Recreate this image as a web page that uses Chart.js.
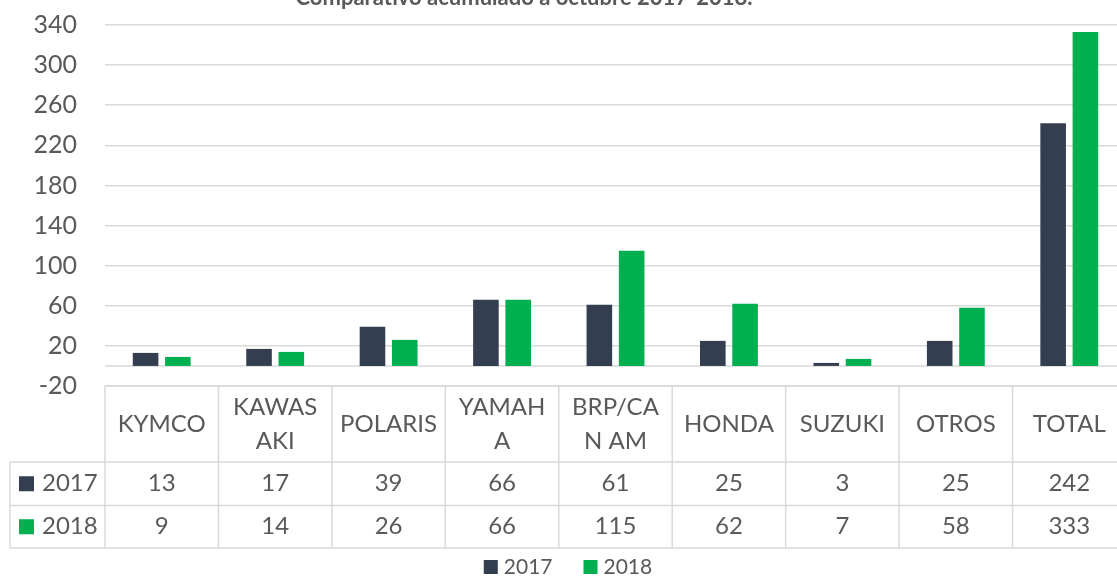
<!DOCTYPE html>
<html lang="es">
<head>
<meta charset="UTF-8">
<title>Comparativo acumulado a octubre 2017-2018</title>
<script src="https://cdn.jsdelivr.net/npm/chart.js"></script>
<style>
  body { margin: 0; overflow: hidden; background: #fff; }
  #wrap { width: 1127px; height: 580px; }
</style>
</head>
<body>
<div id="wrap"><canvas id="grafico" width="1127" height="580"></canvas></div>
<script>
// datos
var categorias = ['KYMCO', ['KAWAS', 'AKI'], 'POLARIS', ['YAMAH', 'A'], ['BRP/CA', 'N AM'], 'HONDA', 'SUZUKI', 'OTROS', 'TOTAL'];
var series = ['2017', '2018'];
var valores2017 = [13, 17, 39, 66, 61, 25, 3, 25, 242];
var valores2018 = [9, 14, 26, 66, 115, 62, 7, 58, 333];
var colores = ['#333f50', '#00b050'];
var titulo = 'Comparativo acumulado a octubre 2017-2018.';

var gris = '#595959';
var linea = '#d9d9d9';
var fuente = 'Lato, "Open Sans", sans-serif';

// linea del cero, titulo cortado arriba y leyenda
const extras = {
    id: 'extras',
    beforeDatasetsDraw(chart) {
        const ctx = chart.ctx;
        const a = chart.chartArea;
        const y0 = chart.scales.y.getPixelForValue(0);
        ctx.save();
        ctx.strokeStyle = linea;
        ctx.lineWidth = 1.5;
        ctx.beginPath();
        ctx.moveTo(a.left, y0);
        ctx.lineTo(a.right, y0);
        ctx.stroke();
        ctx.restore();
    },
    afterDraw(chart) {
        const ctx = chart.ctx;
        ctx.save();
        ctx.fillStyle = gris;
        ctx.font = 'bold 22px ' + fuente;
        ctx.textAlign = 'center';
        ctx.textBaseline = 'alphabetic';
        ctx.fillText(titulo, 524, 5);

        // leyenda
        ctx.font = '21px ' + fuente;
        ctx.textAlign = 'left';
        ctx.textBaseline = 'middle';
        const anchos = series.map(s => ctx.measureText(s).width);
        const total = anchos.reduce((t, w) => t + 14 + 6 + w, 0) + 31 * (series.length - 1);
        let lx = 568 - total / 2;
        const ly = 567;
        series.forEach((s, i) => {
            ctx.fillStyle = colores[i];
            ctx.fillRect(lx, ly - 7, 14, 14);
            ctx.fillStyle = gris;
            ctx.fillText(s, lx + 20, ly);
            lx += 20 + anchos[i] + 31;
        });
        ctx.restore();
    }
};

// tabla de datos debajo del grafico
const tabla = {
    id: 'tabla',
    afterDraw(chart) {
        const ctx = chart.ctx;
        const a = chart.chartArea;
        const x = chart.scales.x;
        const n = categorias.length;
        const w = (a.right - a.left) / n;
        const top = a.bottom;
        const y1 = top + 76;
        const y2 = y1 + 43.5;
        const y3 = y2 + 42.5;
        const izq = 10;

        ctx.save();
        ctx.strokeStyle = linea;
        ctx.lineWidth = 1.5;
        ctx.beginPath();
        ctx.moveTo(a.left, top); ctx.lineTo(a.right, top);
        [y1, y2, y3].forEach(y => { ctx.moveTo(izq, y); ctx.lineTo(a.right, y); });
        for (let i = 0; i <= n; i++) {
            const xx = a.left + i * w;
            ctx.moveTo(xx, top); ctx.lineTo(xx, y3);
        }
        ctx.moveTo(izq, y1); ctx.lineTo(izq, y3);
        ctx.stroke();

        ctx.fillStyle = gris;
        ctx.textAlign = 'center';
        ctx.textBaseline = 'middle';
        ctx.font = '24px ' + fuente;
        categorias.forEach((c, i) => {
            const cx = x.getPixelForValue(i);
            const lineas = Array.isArray(c) ? c : [c];
            const cy = (top + y1) / 2;
            lineas.forEach((t, k) => {
                ctx.fillText(t, cx, cy + (k - (lineas.length - 1) / 2) * 34);
            });
        });
        const filas = [valores2017, valores2018];
        const centros = [(y1 + y2) / 2, (y2 + y3) / 2];
        filas.forEach((fila, s) => {
            fila.forEach((v, i) => {
                ctx.fillText(String(v), x.getPixelForValue(i), centros[s]);
            });
            ctx.fillStyle = colores[s];
            ctx.fillRect(19, centros[s] - 7.5, 15, 15);
            ctx.fillStyle = gris;
            ctx.textAlign = 'left';
            ctx.fillText(series[s], 42, centros[s]);
            ctx.textAlign = 'center';
        });
        ctx.restore();
    }
};

const ctx = document.getElementById('grafico');
new Chart(ctx, {
    type: 'bar',
    data: {
        labels: categorias,
        datasets: [
            { label: series[0], data: valores2017, backgroundColor: colores[0] },
            { label: series[1], data: valores2018, backgroundColor: colores[1] }
        ]
    },
    options: {
        responsive: false,
        animation: false,
        layout: { padding: { top: 25, right: 1, left: 0, bottom: 194 } },
        datasets: { bar: { categoryPercentage: 0.569, barPercentage: 0.793 } },
        plugins: {
            tooltip: { enabled: false },
            legend: { display: false }
        },
        scales: {
            x: { display: false },
            y: {
                min: -20, max: 340,
                ticks: { stepSize: 40, padding: 0, color: gris, font: { size: 25, family: fuente } },
                grid: { color: linea, lineWidth: 1.5, drawTicks: true, tickLength: 28, tickColor: 'rgba(0,0,0,0)' },
                border: { display: false },
                afterFit(s) { s.width = 105; }
            }
        }
    },
    plugins: [extras, tabla]
});
</script>
</body>
</html>
